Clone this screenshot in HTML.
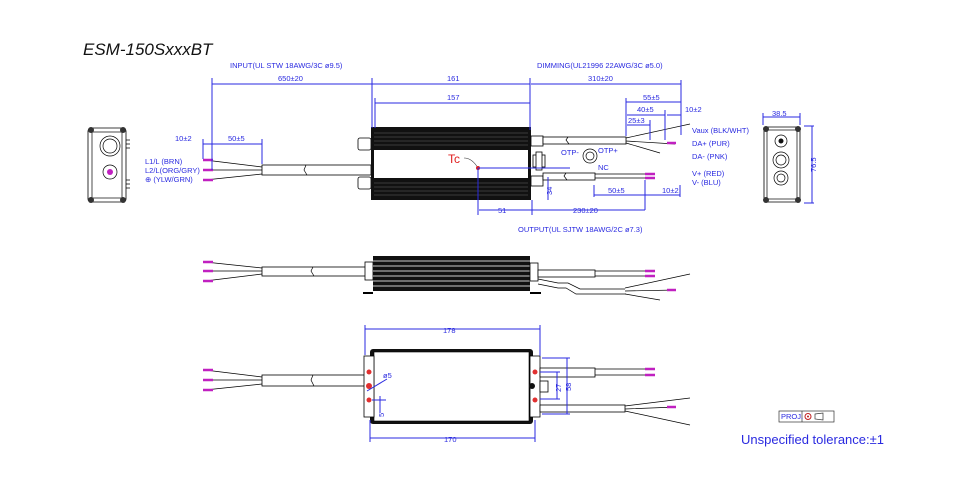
<!DOCTYPE html>
<html><head><meta charset="utf-8"><style>
html,body{margin:0;padding:0;background:#fff;width:960px;height:500px;overflow:hidden}
svg{display:block;font-family:"Liberation Sans",sans-serif}
.d{stroke:#2a2ae0;stroke-width:1;fill:none}
.t{fill:#2a2ae0;font-size:7.5px}
.k{stroke:#000;stroke-width:.8;fill:#fff}
.w{stroke:#000;stroke-width:.7;fill:none}
.m{stroke:#c020c0;stroke-width:2.5}
</style></head><body>
<svg width="960" height="500" viewBox="0 0 960 500">
<text x="83" y="55" font-size="17" font-style="italic" fill="#111">ESM-150SxxxBT</text>
<text x="230" y="68" class="t" font-size="8">INPUT(UL STW 18AWG/3C ø9.5)</text>
<text x="537" y="68" class="t" font-size="8">DIMMING(UL21996 22AWG/3C ø5.0)</text>
<text x="518" y="232" class="t" font-size="8">OUTPUT(UL SJTW 18AWG/2C ø7.3)</text>

<!-- left end view -->
<rect x="88" y="128" width="38" height="74" rx="3" class="k" stroke-width="1.2"/>
<rect x="92" y="132" width="30" height="66" class="w"/>
<circle cx="91" cy="130" r="3" fill="#333"/><circle cx="123" cy="130" r="3" fill="#333"/>
<circle cx="91" cy="200" r="3" fill="#333"/><circle cx="123" cy="200" r="3" fill="#333"/>
<circle cx="110" cy="146" r="10" class="w" stroke-width="1.5"/><circle cx="110" cy="146" r="7" class="w"/>
<circle cx="110" cy="172" r="7" class="w" stroke-width="1.2"/><circle cx="110" cy="172" r="3" fill="#c020c0"/>
<path d="M126 140h4M126 144h4M126 148h4M126 180h4M126 184h4M126 188h4" class="w"/>

<text x="145" y="164" class="t">L1/L (BRN)</text>
<text x="145" y="173" class="t">L2/L(ORG/GRY)</text>
<text x="145" y="182" class="t">⊕ (YLW/GRN)</text>

<!-- top view input -->
<path d="M205 160L262 167M205 170L262 170M205 180L262 174" class="w" stroke-width="1.8"/>
<path d="M203 160h10M203 170h10M203 180h10" class="m"/>
<rect x="262" y="165" width="109" height="10" class="k"/>
<path d="M306 165l-2 5 3 5" class="w"/>
<rect x="358" y="138" width="13" height="12" rx="2" class="k"/><rect x="358" y="177" width="13" height="12" rx="2" class="k"/>
<!-- body top -->
<rect x="371" y="127" width="160" height="73" fill="#111"/>
<rect x="374" y="150" width="154" height="28" fill="#fff"/>
<path d="M374 133h154M374 137h154M374 141h154M374 145h154M374 183h154M374 187h154M374 191h154M374 195h154" stroke="#666" stroke-width=".5"/>
<!-- right connectors -->
<rect x="531" y="136" width="12" height="10" class="k"/><rect x="531" y="176" width="12" height="10" class="k"/>
<rect x="533" y="155" width="12" height="12" class="k"/><rect x="536" y="152" width="6" height="18" class="k"/>
<rect x="543" y="137" width="83" height="7" class="k"/>
<path d="M568 137l-2 3 3 4" class="w"/>
<path d="M626 138L690 124M626 141L675 144M626 143L660 153" class="w" stroke-width="1.6"/>
<path d="M667 143h9" class="m"/>
<rect x="543" y="173" width="52" height="7" class="k"/>
<path d="M566 173l-2 3 3 4" class="w"/>
<path d="M595 174h50M595 178h50" class="w" stroke-width="1.6"/>
<path d="M645 174h10M645 178h10" class="m" stroke-width="2"/>
<circle cx="590" cy="156" r="7" class="w" stroke-width="1.3"/><circle cx="590" cy="156" r="4" class="w"/>
<text x="561" y="155" class="t" font-size="7">OTP-</text><text x="598" y="153" class="t" font-size="7">OTP+</text><text x="598" y="170" class="t" font-size="7">NC</text>
<text x="692" y="133" class="t" font-size="7">Vaux (BLK/WHT)</text>
<text x="692" y="146" class="t" font-size="7">DA+ (PUR)</text>
<text x="692" y="159" class="t" font-size="7">DA- (PNK)</text>
<text x="692" y="176" class="t" font-size="7">V+ (RED)</text>
<text x="692" y="185" class="t" font-size="7">V-  (BLU)</text>
<!-- Tc -->
<text x="448" y="163" fill="#e02020" font-size="12">Tc</text>
<path d="M464 158q8 0 14 10" stroke="#333" stroke-width=".6" fill="none"/>
<circle cx="478" cy="168" r="2" fill="#e02020"/>
<!-- dims top -->
<path class="d" d="M212 84h160M372 84h158M531 84h150M375 103h155M212 78v92M372 78v50M375 98v30M530 78v52M681 80v55M203 144h59M203 139v20M262 139v25M626 102h55M626 98v38M627 115h38M667 115h14M665 110v30M627 125h23M650 120v20M594 195h51M645 195h35M594 185v12M645 180v30M680 185v12M479 210h53M532 210h113M478 168v47M478 168h92M548 177v23M532 200v15"/>
<text x="278" y="81" class="t">650±20</text><text x="447" y="81" class="t">161</text><text x="447" y="100" class="t">157</text>
<text x="588" y="81" class="t">310±20</text><text x="175" y="141" class="t">10±2</text><text x="228" y="141" class="t">50±5</text>
<text x="643" y="100" class="t">55±5</text><text x="637" y="112" class="t">40±5</text><text x="685" y="112" class="t">10±2</text><text x="628" y="123" class="t">25±3</text>
<text x="608" y="193" class="t">50±5</text><text x="662" y="193" class="t">10±2</text><text x="498" y="213" class="t">51</text><text x="573" y="213" class="t">230±20</text>
<text transform="translate(552 195) rotate(-90)" class="t">34</text>

<!-- right end view -->
<rect x="764" y="127" width="36" height="75" rx="3" class="k" stroke-width="1.2"/>
<rect x="767" y="130" width="30" height="69" class="w"/>
<circle cx="766" cy="129" r="3" fill="#333"/><circle cx="798" cy="129" r="3" fill="#333"/>
<circle cx="766" cy="200" r="3" fill="#333"/><circle cx="798" cy="200" r="3" fill="#333"/>
<circle cx="781" cy="141" r="6" class="w" stroke-width="1.5"/><circle cx="781" cy="141" r="2.5" fill="#111"/>
<circle cx="781" cy="160" r="8" class="w" stroke-width="1.5"/><circle cx="781" cy="160" r="5" class="w"/>
<circle cx="781" cy="178" r="7" class="w" stroke-width="1.5"/><circle cx="781" cy="178" r="4" class="w"/>
<path class="d" d="M763 117h37M763 113v12M800 113v12M804 126h10M804 203h10M812 126v77"/>
<text x="772" y="116" class="t">38.5</text>
<text transform="translate(816 172) rotate(-90)" class="t">76.5</text>

<!-- side view -->
<path d="M205 262L262 268M205 271L262 271M205 281L262 274" class="w" stroke-width="1.8"/>
<path d="M203 262h10M203 271h10M203 281h10" class="m"/>
<rect x="262" y="267" width="109" height="9" class="k"/>
<path d="M313 267l-2 4 3 5" class="w"/>
<rect x="365" y="262" width="8" height="18" class="k"/>
<rect x="373" y="256" width="157" height="35" fill="#111"/>
<path d="M373 261h157M373 266h157M373 271h157M373 276h157M373 281h157M373 286h157" stroke="#ccc" stroke-width="1"/>
<path d="M363 293h10M530 293h11" stroke="#000" stroke-width="2"/>
<rect x="530" y="263" width="8" height="18" class="k"/>
<rect x="538" y="270" width="57" height="7" class="k"/>
<path d="M595 271h50M595 276h50" class="w" stroke-width="1.5"/><path d="M645 271h10M645 276h10" class="m" stroke-width="2"/>
<path d="M538 279l20 4h10l12 6h45" class="w"/><path d="M538 284l20 4h8l10 6h50" class="w"/>
<path d="M625 288L690 274M625 291L676 290M625 294L660 300" class="w" stroke-width="1.5"/>
<path d="M667 290h9" class="m" stroke-width="2"/>

<!-- bottom view -->
<path d="M205 370L262 377M205 380L262 380M205 390L262 384" class="w" stroke-width="1.8"/>
<path d="M203 370h10M203 380h10M203 390h10" class="m"/>
<rect x="262" y="375" width="105" height="11" class="k"/>
<path d="M313 375l-2 5 3 6" class="w"/>
<rect x="370" y="349" width="163" height="75" rx="3" fill="#111"/>
<rect x="374" y="352" width="155" height="69" fill="#fff" stroke="#000" stroke-width=".6"/>
<rect x="364" y="356" width="10" height="61" class="k"/>
<rect x="530" y="356" width="10" height="61" class="k"/>
<circle cx="369" cy="372" r="2.5" fill="#e03030"/><circle cx="369" cy="386" r="3" fill="#e03030"/><circle cx="369" cy="400" r="2.5" fill="#e03030"/>
<circle cx="535" cy="372" r="2.5" fill="#e03030"/><circle cx="535" cy="400" r="2.5" fill="#e03030"/>
<circle cx="532" cy="386" r="3" fill="#111"/><rect x="540" y="381" width="8" height="11" class="k"/>
<rect x="540" y="368" width="55" height="9" class="k"/>
<path d="M595 369h50M595 375h50" class="w" stroke-width="1.5"/><path d="M645 369h10M645 375h10" class="m" stroke-width="2"/>
<rect x="540" y="405" width="85" height="7" class="k"/>
<path d="M625 406L690 398M625 409L676 407M625 411L690 425" class="w" stroke-width="1.5"/>
<path d="M667 407h9" class="m" stroke-width="2"/>
<path class="d" d="M365 329h175M365 325v30M540 325v31M370 438h165M370 420v22M535 420v22M542 358h28M542 414h28M567 358v56M540 372h20M540 399h20M557 372v27M367 391l20-12M380 396v17M372 400h14"/>
<text x="443" y="333" class="t">178</text><text x="444" y="442" class="t">170</text>
<text x="383" y="378" class="t" font-size="7">ø5</text>
<text transform="translate(561 392) rotate(-90)" class="t">27</text>
<text transform="translate(571 391) rotate(-90)" class="t">58</text>
<text transform="translate(384 417) rotate(-90)" class="t">5</text>

<!-- projection / tolerance -->
<rect x="779" y="411" width="55" height="11" fill="#fff" stroke="#333" stroke-width=".7"/>
<path d="M802 411v11" stroke="#333" stroke-width=".7"/>
<text x="781" y="419" class="t" font-size="6">PROJ.</text>
<circle cx="808" cy="416.5" r="3" fill="none" stroke="#c02020"/><circle cx="808" cy="416.5" r="1" fill="#c02020"/>
<path d="M815 414l8-1v7l-8-1z" fill="none" stroke="#333" stroke-width=".7"/>
<text x="741" y="444" fill="#2a2ae0" font-size="13">Unspecified tolerance:±1</text>
</svg>
</body></html>
